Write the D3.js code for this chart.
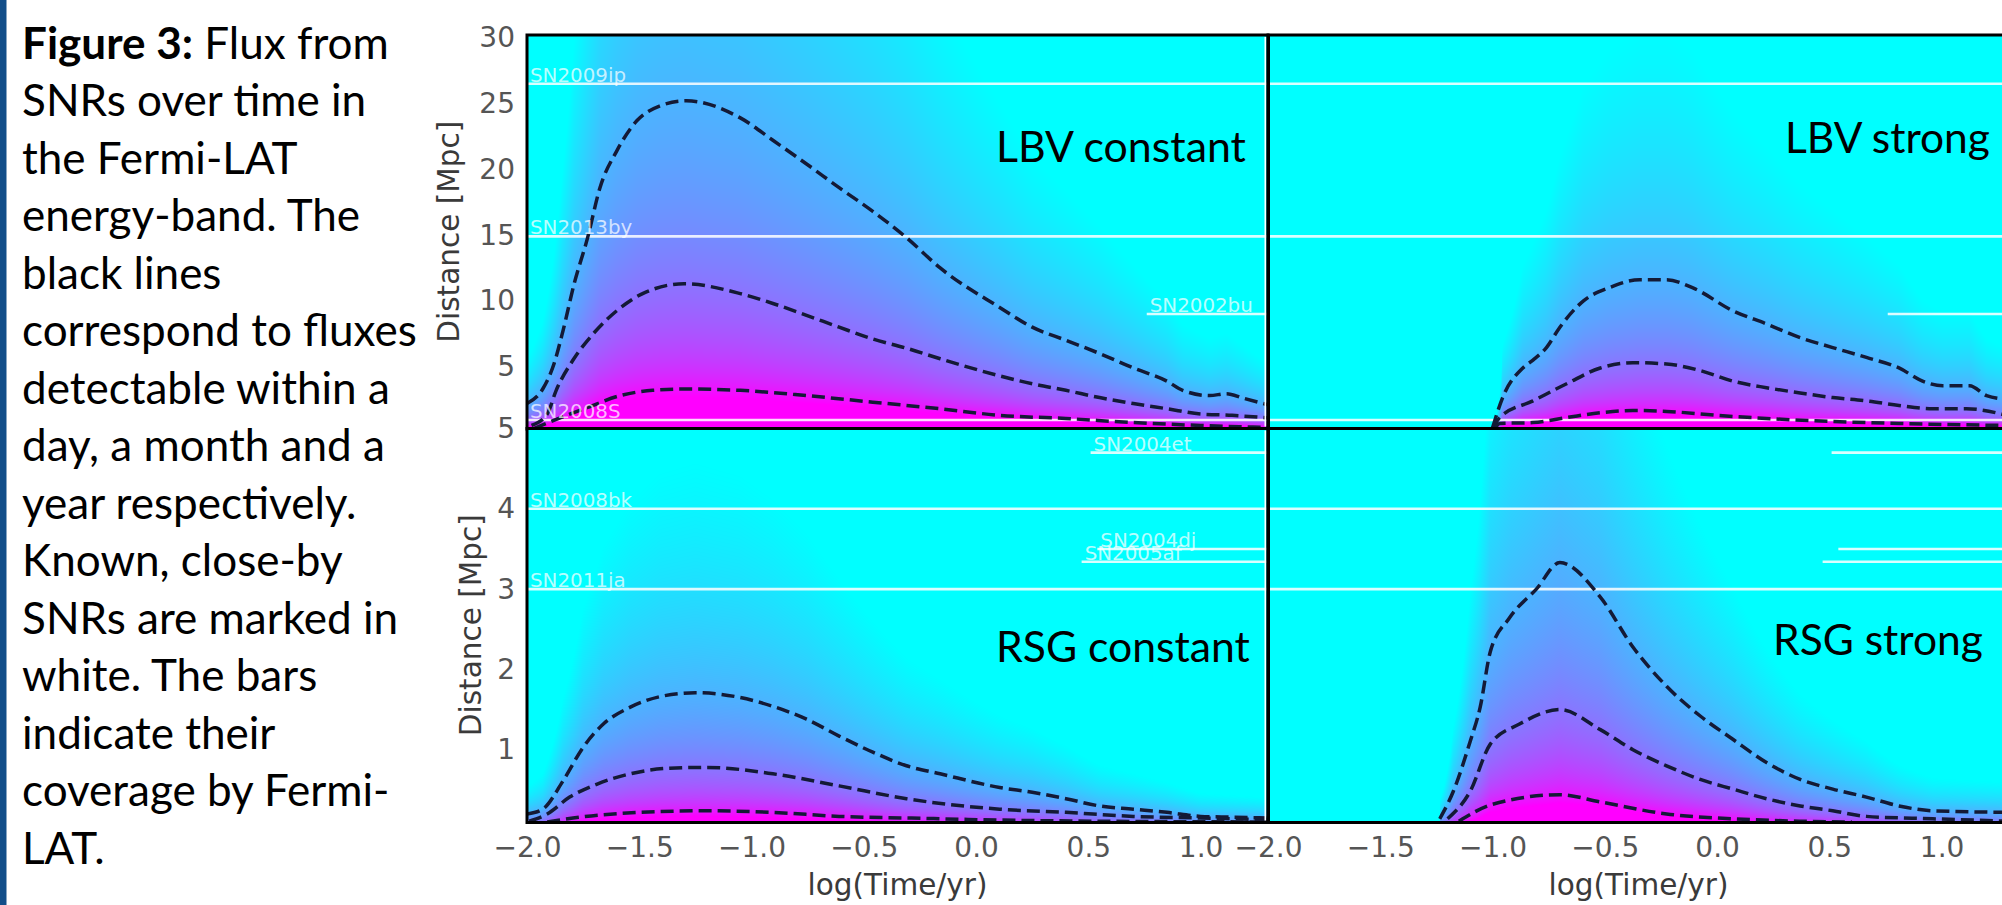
<!DOCTYPE html>
<html>
<head>
<meta charset="utf-8">
<script src="https://cdn.jsdelivr.net/npm/d3@7"></script>
<style>
  html, body { margin: 0; padding: 0; background: #fff; overflow: hidden; }
  svg { display: block; }
</style>
</head>
<body>
<svg id="fig" width="2002" height="905"></svg>
<script>
// ---------------- data ----------------
const xTicks = [-2.0, -1.5, -1.0, -0.5, 0.0, 0.5, 1.0];
const yTicksTop = [5, 10, 15, 20, 25, 30];
const yTicksBottom = [1, 2, 3, 4, 5];
const panelTitles = ["LBV constant", "LBV strong", "RSG constant", "RSG strong"];

// detection-limit contours: [log(Time/yr), distance in Mpc]
const lbvConstYear = [[-2.0,2.0],[-1.93,3.1],[-1.88,5.0],[-1.84,7.5],[-1.79,11.1],[-1.73,14.6],[-1.675,18.4],[-1.60,21.2],[-1.51,23.5],[-1.41,24.6],[-1.29,25.0],[-1.05,23.7],[-0.905,22.0],[-0.755,20.2],[-0.61,18.4],[-0.46,16.6],[-0.31,14.6],[-0.16,12.3],[0.105,9.3],[0.25,7.8],[0.40,6.8],[0.55,5.8],[0.70,4.7],[0.85,3.7],[0.92,3.0],[1.04,2.6],[1.115,2.75],[1.19,2.4],[1.3,1.9]];
const lbvConstMonth = [[-1.98,0.33],[-1.91,1.2],[-1.87,3.0],[-1.795,5.3],[-1.705,7.3],[-1.60,9.05],[-1.485,10.35],[-1.3,11.1],[-1.05,10.35],[-0.905,9.6],[-0.755,8.7],[-0.61,7.8],[-0.46,6.9],[-0.31,6.2],[-0.16,5.4],[0.105,4.1],[0.25,3.5],[0.40,3.0],[0.55,2.45],[0.70,2.0],[0.85,1.6],[1.0,1.2],[1.14,1.1],[1.3,0.9]];
const lbvConstDay = [[-1.97,0.1],[-1.85,0.93],[-1.73,1.7],[-1.585,2.6],[-1.44,3.0],[-1.28,3.1],[-1.05,3.0],[-0.755,2.6],[-0.46,2.1],[-0.16,1.6],[0.105,1.1],[0.40,0.86],[0.70,0.55],[1.0,0.33],[1.3,0.18]];

const lbvStrongYear = [[-1.0,0.15],[-0.955,2.45],[-0.865,4.7],[-0.82,5.3],[-0.76,6.25],[-0.70,7.8],[-0.595,9.8],[-0.48,10.8],[-0.345,11.4],[-0.225,11.4],[-0.11,10.8],[0.07,9.05],[0.22,8.05],[0.37,7.0],[0.515,6.25],[0.665,5.5],[0.81,4.7],[0.915,3.7],[1.005,3.35],[1.125,3.35],[1.2,2.6],[1.3,2.3]];
const lbvStrongMonth = [[-1.0,0.1],[-0.968,0.93],[-0.82,2.2],[-0.67,3.5],[-0.52,4.7],[-0.375,5.1],[-0.225,5.0],[-0.075,4.5],[0.07,3.7],[0.22,3.2],[0.37,2.8],[0.515,2.45],[0.665,2.2],[0.81,1.85],[0.96,1.6],[1.11,1.6],[1.3,1.05]];
const lbvStrongDay = [[-0.99,0.1],[-0.968,0.48],[-0.82,0.55],[-0.67,0.93],[-0.52,1.3],[-0.375,1.47],[-0.225,1.4],[0.0,1.1],[0.22,0.86],[0.515,0.63],[0.81,0.48],[1.3,0.33]];

const rsgConstYear = [[-2.0,0.2],[-1.93,0.26],[-1.84,0.61],[-1.75,1.03],[-1.66,1.32],[-1.54,1.53],[-1.41,1.66],[-1.25,1.71],[-1.05,1.65],[-0.905,1.54],[-0.755,1.38],[-0.61,1.17],[-0.46,0.97],[-0.31,0.8],[-0.16,0.7],[0.105,0.53],[0.25,0.47],[0.40,0.39],[0.55,0.3],[0.70,0.26],[0.85,0.22],[1.0,0.17],[1.14,0.16],[1.3,0.15]];
const rsgConstMonth = [[-1.99,0.11],[-1.91,0.2],[-1.81,0.41],[-1.69,0.57],[-1.54,0.7],[-1.365,0.77],[-1.2,0.78],[-0.905,0.7],[-0.61,0.55],[-0.31,0.39],[0.105,0.26],[0.40,0.22],[0.70,0.17],[1.0,0.15],[1.3,0.13]];
const rsgConstDay = [[-1.91,0.1],[-1.795,0.15],[-1.5,0.22],[-1.2,0.24],[-0.905,0.22],[-0.61,0.17],[-0.31,0.15],[0.2,0.12],[1.3,0.1]];

const rsgStrongYear = [[-1.235,0.14],[-1.175,0.48],[-1.1,1.1],[-1.055,1.53],[-1.01,2.22],[-0.925,2.64],[-0.805,3.0],[-0.70,3.33],[-0.52,2.9],[-0.375,2.28],[-0.225,1.79],[-0.075,1.42],[0.07,1.13],[0.22,0.84],[0.37,0.63],[0.515,0.51],[0.665,0.41],[0.81,0.3],[0.96,0.24],[1.3,0.22]];
const rsgStrongMonth = [[-1.2,0.14],[-1.1,0.48],[-1.01,1.07],[-0.88,1.32],[-0.70,1.5],[-0.52,1.25],[-0.375,1.0],[-0.225,0.8],[-0.075,0.63],[0.07,0.51],[0.22,0.39],[0.37,0.3],[0.515,0.24],[0.665,0.17],[0.96,0.14],[1.3,0.11]];
const rsgStrongDay = [[-1.15,0.11],[-1.0,0.32],[-0.70,0.44],[-0.52,0.35],[-0.225,0.2],[0.07,0.14],[0.37,0.11],[0.6,0.1]];

// known nearby supernovae: name, distance [Mpc], start of Fermi-LAT coverage [log yr]
const snTopNames  = ["SN2009ip", "SN2013by", "SN2002bu", "SN2008S"];
const snTopDist   = [26.3, 14.7, 8.8, 0.75];
const snTopStart  = [-2.0, -2.0, 0.76, -2.0];
const snBotNames  = ["SN2004et", "SN2008bk", "SN2004dj", "SN2005af", "SN2011ja"];
const snBotDist   = [4.70, 4.0, 3.50, 3.34, 3.0];
const snBotStart  = [0.51, -2.0, 0.54, 0.47, -2.0];

const captionLines = [
  ["Figure 3:", " Flux from"],
  ["", "SNRs over time in"],
  ["", "the Fermi-LAT"],
  ["", "energy-band. The"],
  ["", "black lines"],
  ["", "correspond to fluxes"],
  ["", "detectable within a"],
  ["", "day, a month and a"],
  ["", "year respectively."],
  ["", "Known, close-by"],
  ["", "SNRs are marked in"],
  ["", "white. The bars"],
  ["", "indicate their"],
  ["", "coverage by Fermi-"],
  ["", "LAT."]
];

// ---------------- helpers ----------------
const svg = d3.select("#fig");
// font size at which `txt` spans `width` pixels
function fitSize(family, txt, width, weight) {
  const probe = svg.append("text").attr("font-family", family).attr("font-size", 40)
    .attr("font-weight", weight || "normal").text(txt);
  const w = probe.node().getComputedTextLength();
  probe.remove();
  return 40 * width / w;
}
const tickSize  = fitSize("DejaVu Sans", "\u22122.0", 68);
const labelSize = fitSize("DejaVu Sans", "log(Time/yr)", 180);
const snSize    = fitSize("DejaVu Sans", "SN2009ip", 96);

// ---------------- layout ----------------
const xLeft  = d3.scaleLinear().domain([-2, 1.3]).range([527, 1268]);
const xRight = d3.scaleLinear().domain([-2, 1.3]).range([1268, 2009]);
const yTop = d3.scaleLinear().domain([0.1, 30]).range([428.5, 35]);
const yBot = d3.scaleLinear().domain([0.1, 5]).range([822, 428.5]);

const panels = [
  {title: panelTitles[0], x: xLeft,  y: yTop, curves: [lbvConstYear, lbvConstMonth, lbvConstDay],   onset: false, names: snTopNames, dist: snTopDist, start: snTopStart, labels: true},
  {title: panelTitles[1], x: xRight, y: yTop, curves: [lbvStrongYear, lbvStrongMonth, lbvStrongDay], onset: true,  names: snTopNames, dist: snTopDist, start: snTopStart, labels: false},
  {title: panelTitles[2], x: xLeft,  y: yBot, curves: [rsgConstYear, rsgConstMonth, rsgConstDay],   onset: false, names: snBotNames, dist: snBotDist, start: snBotStart, labels: true},
  {title: panelTitles[3], x: xRight, y: yBot, curves: [rsgStrongYear, rsgStrongMonth, rsgStrongDay], onset: true,  names: snBotNames, dist: snBotDist, start: snBotStart, labels: false}
];

// matplotlib "cool" colour map and log-flux normalisation
const cool = d3.interpolateRgb("#00ffff", "#ff00ff");
const lut = d3.range(256).map(i => d3.rgb(cool(i / 255)));
const fluxToV = d3.scaleLinear().domain([-0.857, 2.0]).range([0, 1]).clamp(true);

// distance of the yearly detection limit at time t (log-linear interpolation)
function limitAt(curve, t, onset) {
  if (t < curve[0][0]) return onset ? 0 : curve[0][1];
  const n = curve.length;
  if (t >= curve[n - 1][0]) return curve[n - 1][1];
  let i = 1;
  while (curve[i][0] < t) i++;
  const a = curve[i - 1], b = curve[i];
  const f = (t - a[0]) / (b[0] - a[0]);
  return Math.exp(Math.log(a[1]) * (1 - f) + Math.log(b[1]) * f);
}

const defs = svg.append("defs");

panels.forEach((p, k) => {
  const [x0, x1] = p.x.range();
  const [yb, yt] = p.y.range();
  const w = Math.round(x1 - x0), h = Math.round(yb - yt);

  // flux map
  const canvas = document.createElement("canvas");
  canvas.width = w; canvas.height = h;
  const ctx = canvas.getContext("2d");
  const img = ctx.createImageData(w, h);
  const lim = d3.range(w).map(i => limitAt(p.curves[0], p.x.invert(x0 + i + 0.5), p.onset));
  for (let j = 0; j < h; j++) {
    const dist = p.y.invert(yt + j + 0.5);
    for (let i = 0; i < w; i++) {
      const L = lim[i];
      const v = L > 0 ? fluxToV(2 * Math.log10(L / dist)) : 0;
      const c = lut[Math.round(v * 255)];
      const o = 4 * (j * w + i);
      img.data[o] = c.r; img.data[o + 1] = c.g; img.data[o + 2] = c.b; img.data[o + 3] = 255;
    }
  }
  ctx.putImageData(img, 0, 0);

  const clipId = "clip" + k;
  defs.append("clipPath").attr("id", clipId)
    .append("rect").attr("x", x0).attr("y", yt).attr("width", w).attr("height", h);

  const g = svg.append("g");
  g.append("image")
    .attr("href", canvas.toDataURL())
    .attr("x", x0).attr("y", yt).attr("width", w).attr("height", h)
    .attr("preserveAspectRatio", "none");

  // supernova coverage bars
  const sn = p.names.map((name, i) => ({name, d: p.dist[i], s: p.start[i]}));
  const gl = g.append("g").attr("clip-path", `url(#${clipId})`);
  gl.selectAll("line.sn").data(sn).join("line")
    .attr("class", "sn")
    .attr("x1", d => p.x(d.s)).attr("x2", d => p.x(1.3))
    .attr("y1", d => p.y(d.d)).attr("y2", d => p.y(d.d))
    .attr("stroke", "#ffffff").attr("stroke-opacity", 0.85).attr("stroke-width", 2.6);
  if (p.labels) {
    g.append("g").selectAll("text.sn").data(sn).join("text")
      .attr("class", "sn")
      .attr("x", d => p.x(d.s) + 3).attr("y", d => p.y(d.d) - 2)
      .attr("font-family", "DejaVu Sans").attr("font-size", snSize)
      .attr("fill", "#ffffff").attr("fill-opacity", 0.72)
      .text(d => d.name);
  }

  // detection contours (year, month, day)
  const line = d3.line().x(d => p.x(d[0])).y(d => p.y(d[1])).curve(d3.curveMonotoneX);
  gl.selectAll("path.lim").data(p.curves).join("path")
    .attr("class", "lim")
    .attr("d", line)
    .attr("fill", "none").attr("stroke", "#141a36")
    .attr("stroke-width", 3.5).attr("stroke-dasharray", "13 6");

  // frame
  g.append("rect").attr("x", x0).attr("y", yt).attr("width", w).attr("height", h)
    .attr("fill", "none").attr("stroke", "#000").attr("stroke-width", 3);
});

// thin white gap left of the shared vertical spine
[[37, 426.5], [430.5, 820.5]].forEach(([a, b]) => {
  svg.append("line").attr("x1", 1265.3).attr("x2", 1265.3).attr("y1", a).attr("y2", b)
    .attr("stroke", "#fff").attr("stroke-width", 1.6);
});
svg.append("line").attr("x1", 1268.5).attr("x2", 1268.5).attr("y1", 35).attr("y2", 822)
  .attr("stroke", "#000").attr("stroke-width", 3);

// ---------------- axes ----------------
const tickColor = "#555";
function styleAxis(sel) {
  sel.select(".domain").remove();
  sel.selectAll("text").attr("font-family", "DejaVu Sans").attr("font-size", tickSize).attr("fill", tickColor);
}
svg.append("g").attr("transform", "translate(527,0)")
  .call(d3.axisLeft(yTop).tickValues(yTicksTop).tickFormat(d3.format("d")).tickSize(0).tickPadding(12))
  .call(styleAxis)
  .selectAll("text").attr("dy", "0.42em");
svg.append("g").attr("transform", "translate(527,0)")
  .call(d3.axisLeft(yBot).tickValues(yTicksBottom).tickFormat(d3.format("d")).tickSize(0).tickPadding(12))
  .call(styleAxis);
[xLeft, xRight].forEach(xs => {
  svg.append("g").attr("transform", "translate(0,822)")
    .call(d3.axisBottom(xs).tickValues(xTicks).tickFormat(d3.format(".1f")).tickSize(0).tickPadding(15))
    .call(styleAxis);
  const [a, b] = xs.range();
  svg.append("text").attr("x", (a + b) / 2).attr("y", 895)
    .attr("text-anchor", "middle").attr("font-family", "DejaVu Sans").attr("font-size", labelSize)
    .attr("fill", "#3a3a3a").text("log(Time/yr)");
});
[[459, (35 + 428.5) / 2], [481, (428.5 + 822) / 2]].forEach(([bx, cy]) => {
  svg.append("text").attr("transform", `translate(${bx},${cy}) rotate(-90)`)
    .attr("text-anchor", "middle").attr("font-family", "DejaVu Sans").attr("font-size", labelSize)
    .attr("fill", "#3a3a3a").text("Distance [Mpc]");
});

// ---------------- panel titles ----------------
const titleBoxes = [[996, 162, 250], [1785, 153, 205], [996, 662, 254], [1773, 655, 210]];
panels.forEach((p, k) => {
  const [tx, ty, tw] = titleBoxes[k];
  svg.append("text").attr("x", tx).attr("y", ty)
    .attr("font-family", "Lato").attr("font-size", fitSize("Lato", p.title, tw))
    .attr("fill", "#000").text(p.title);
});

// ---------------- caption ----------------
svg.append("rect").attr("x", 0).attr("y", 0).attr("width", 6.5).attr("height", 905).attr("fill", "#124e89");
const capSize = fitSize("Lato", "correspond to fluxes", 395);
captionLines.forEach((ln, i) => {
  const t = svg.append("text").attr("x", 22).attr("y", 58.5 + i * 57.5)
    .attr("font-family", "Lato").attr("font-size", capSize).attr("fill", "#000");
  if (ln[0]) t.append("tspan").attr("font-weight", "bold").text(ln[0]);
  t.append("tspan").text(ln[1]);
});
</script>
</body>
</html>
